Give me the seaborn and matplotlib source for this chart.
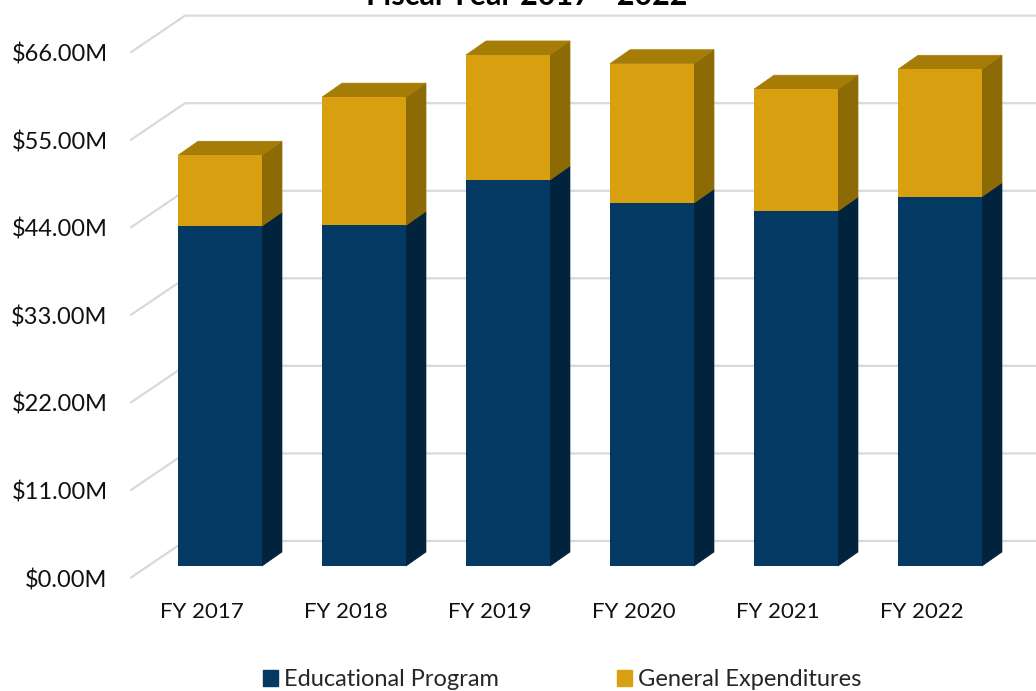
import matplotlib
matplotlib.use("Agg")
import matplotlib.pyplot as plt
import seaborn as sns
import pandas as pd
from matplotlib.patches import Polygon, Patch

years = ["FY 2017", "FY 2018", "FY 2019", "FY 2020", "FY 2021", "FY 2022"]
educational = [42.7, 42.8, 48.5, 45.6, 44.6, 46.4]
general = [8.9, 16.1, 15.7, 17.5, 15.3, 16.0]
tick_values = [0, 11, 22, 33, 44, 55, 66]

BLUE = "#043963"
BLUE_SIDE = "#02233d"
GOLD = "#d8a010"
GOLD_SIDE = "#8c6a04"
GOLD_TOP = "#a57d06"
GRID = "#d9d9d9"

sns.set_theme(style="white")
plt.rcParams["font.family"] = ["Lato", "DejaVu Sans"]

# pixel geometry of the oblique "3D" look
W, H = 1036, 691
PX_PER_CAT = 144.0
PX_PER_M = 7.96
DEPTH_X = 20 / PX_PER_CAT       # bar depth, in category units
DEPTH_Y = 14 / PX_PER_M         # bar depth, in $M units
FRONT_X = -17.7 / PX_PER_CAT    # tick plane offset from bar plane
FRONT_Y = -12 / PX_PER_M
BACK_X = 37 / PX_PER_CAT        # back wall offset from bar plane
BACK_Y = 25 / PX_PER_M

df = pd.DataFrame({
    "Year": years,
    "Educational": educational,
    "Total": [e + g for e, g in zip(educational, general)],
})

fig = plt.figure(figsize=(W / 100, H / 100), dpi=100)
y_bottom = -3
y_top = 566 / PX_PER_M
ax_bottom_px = 566 + (-y_bottom) * PX_PER_M
ax = fig.add_axes([148 / W, (H - ax_bottom_px) / H, 864 / W, ax_bottom_px / H])

sns.barplot(data=df, x="Year", y="Total", color=GOLD, width=0.583,
            saturation=1, linewidth=0, ax=ax, zorder=3)
sns.barplot(data=df, x="Year", y="Educational", color=BLUE, width=0.583,
            saturation=1, linewidth=0, ax=ax, zorder=3)

ax.set_xlim(-0.5, 5.5)
ax.set_ylim(y_bottom, y_top)

# perspective gridlines: tick plane -> back wall -> right edge
for v in tick_values:
    x0, y0 = -0.5 + FRONT_X, v + FRONT_Y
    x1, y1 = -0.5 + BACK_X, v + BACK_Y
    ax.plot([x0, x1, 5.5 + 24 / PX_PER_CAT], [y0, y1, y1], color=GRID,
            lw=1.6, zorder=1, clip_on=False, solid_capstyle="butt")

# side and top faces of each bar
n = len(years)
for i in range(n):
    p = ax.patches[i]
    left = p.get_x()
    right = left + p.get_width()
    e = educational[i]
    t = df["Total"][i]
    faces = [
        ([(right, 0), (right + DEPTH_X, DEPTH_Y), (right + DEPTH_X, e + DEPTH_Y), (right, e)], BLUE_SIDE),
        ([(right, e), (right + DEPTH_X, e + DEPTH_Y), (right + DEPTH_X, t + DEPTH_Y), (right, t)], GOLD_SIDE),
        ([(left, t), (left + DEPTH_X, t + DEPTH_Y), (right + DEPTH_X, t + DEPTH_Y), (right, t)], GOLD_TOP),
    ]
    for pts, c in faces:
        ax.add_patch(Polygon(pts, closed=True, facecolor=c, edgecolor=c,
                             lw=0.5, zorder=2.5))

# tick labels sit on the front (tick) plane
ax.set_yticks([v + FRONT_Y for v in tick_values],
              labels=[f"${v:.2f}M" for v in tick_values])
ax.set_xticks([i + FRONT_X for i in range(n)], labels=years)
ax.tick_params(axis="y", length=0, pad=29, labelsize=17, labelcolor="#111111")
ax.tick_params(axis="x", length=0, pad=9, labelsize=16, labelcolor="#111111")
ax.set_xlabel("")
ax.set_ylabel("")
sns.despine(ax=ax, left=True, bottom=True)
ax.patch.set_alpha(0)

fig.text(527 / W, 1 - 5 / H, "Fiscal Year 2017 - 2022", ha="center",
         va="baseline", fontsize=22, fontweight="bold", color="black")

handles = [Patch(facecolor=BLUE, edgecolor=BLUE, label="Educational Program"),
           Patch(facecolor=GOLD, edgecolor=GOLD, label="General Expenditures")]
fig.legend(handles=handles, loc="center", bbox_to_anchor=(562 / W, 1 - 680 / H),
           ncol=2, frameon=False, fontsize=17, handlelength=0.65,
           handleheight=0.65, handletextpad=0.25, columnspacing=5.0)

fig.savefig("out.png", dpi=100)
